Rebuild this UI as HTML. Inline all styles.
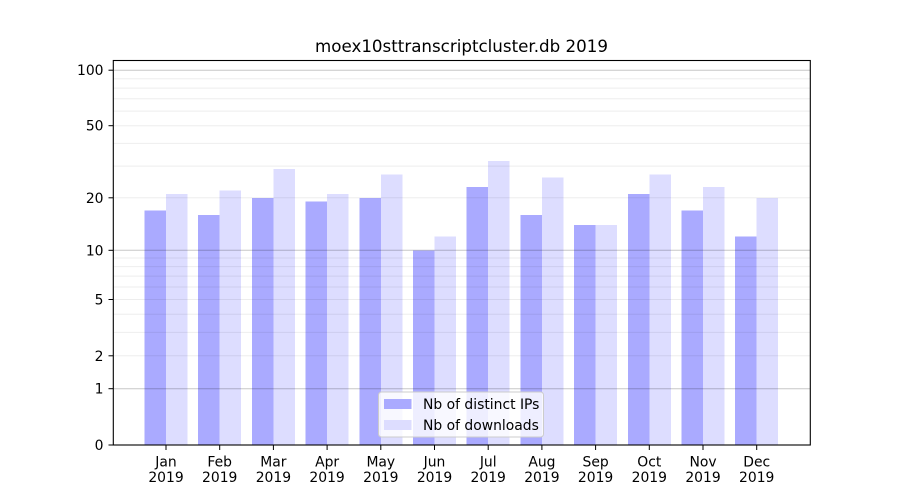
<!DOCTYPE html>
<html><head><meta charset="utf-8"><style>
html,body{margin:0;padding:0;background:#fff;}
svg{display:block;font-family:"DejaVu Sans","Liberation Sans",sans-serif;}
</style></head><body>
<svg width="900" height="500" viewBox="0 0 900 500" xmlns="http://www.w3.org/2000/svg">
<rect width="900" height="500" fill="#fff"/>
<!-- bars -->
<g shape-rendering="crispEdges">
<rect x="144.5" y="210.3" width="21.5" height="234.7" fill="#aaaaff"/>
<rect x="166" y="194.0" width="21.5" height="251" fill="#ddddff"/>
<rect x="198.2" y="214.9" width="21.5" height="230.1" fill="#aaaaff"/>
<rect x="219.7" y="190.4" width="21.5" height="254.6" fill="#ddddff"/>
<rect x="251.9" y="197.8" width="21.5" height="247.2" fill="#aaaaff"/>
<rect x="273.4" y="168.8" width="21.5" height="276.2" fill="#ddddff"/>
<rect x="305.6" y="201.7" width="21.5" height="243.3" fill="#aaaaff"/>
<rect x="327.1" y="194.0" width="21.5" height="251" fill="#ddddff"/>
<rect x="359.3" y="197.8" width="21.5" height="247.2" fill="#aaaaff"/>
<rect x="380.8" y="174.4" width="21.5" height="270.6" fill="#ddddff"/>
<rect x="413.0" y="250.3" width="21.5" height="194.7" fill="#aaaaff"/>
<rect x="434.5" y="236.7" width="21.5" height="208.3" fill="#ddddff"/>
<rect x="466.7" y="186.9" width="21.5" height="258.1" fill="#aaaaff"/>
<rect x="488.2" y="161.0" width="21.5" height="284" fill="#ddddff"/>
<rect x="520.4" y="214.9" width="21.5" height="230.1" fill="#aaaaff"/>
<rect x="541.9" y="177.3" width="21.5" height="267.7" fill="#ddddff"/>
<rect x="574.1" y="225.1" width="21.5" height="219.9" fill="#aaaaff"/>
<rect x="595.6" y="225.1" width="21.5" height="219.9" fill="#ddddff"/>
<rect x="627.8" y="194.0" width="21.5" height="251" fill="#aaaaff"/>
<rect x="649.3" y="174.4" width="21.5" height="270.6" fill="#ddddff"/>
<rect x="681.5" y="210.3" width="21.5" height="234.7" fill="#aaaaff"/>
<rect x="703.0" y="186.9" width="21.5" height="258.1" fill="#ddddff"/>
<rect x="735.2" y="236.7" width="21.5" height="208.3" fill="#aaaaff"/>
<rect x="756.7" y="197.8" width="21.5" height="247.2" fill="#ddddff"/>
</g>
<!-- minor grid -->
<g stroke="#000" stroke-opacity="0.07" stroke-width="1">
<line x1="113" x2="810" y1="355.8" y2="355.8"/>
<line x1="113" x2="810" y1="332.4" y2="332.4"/>
<line x1="113" x2="810" y1="314.3" y2="314.3"/>
<line x1="113" x2="810" y1="299.5" y2="299.5"/>
<line x1="113" x2="810" y1="287.0" y2="287.0"/>
<line x1="113" x2="810" y1="276.1" y2="276.1"/>
<line x1="113" x2="810" y1="266.6" y2="266.6"/>
<line x1="113" x2="810" y1="258.0" y2="258.0"/>
<line x1="113" x2="810" y1="197.8" y2="197.8"/>
<line x1="113" x2="810" y1="166.1" y2="166.1"/>
<line x1="113" x2="810" y1="143.4" y2="143.4"/>
<line x1="113" x2="810" y1="125.7" y2="125.7"/>
<line x1="113" x2="810" y1="111.1" y2="111.1"/>
<line x1="113" x2="810" y1="98.8" y2="98.8"/>
<line x1="113" x2="810" y1="88.1" y2="88.1"/>
<line x1="113" x2="810" y1="78.7" y2="78.7"/>
</g>
<!-- major grid -->
<g stroke="#000" stroke-opacity="0.22" stroke-width="1">
<line x1="113" x2="810" y1="388.7" y2="388.7"/>
<line x1="113" x2="810" y1="250.3" y2="250.3"/>
<line x1="113" x2="810" y1="70.2" y2="70.2"/>
</g>
<!-- axes frame -->
<rect x="113.3" y="60.5" width="697" height="384.5" fill="none" stroke="#000" stroke-width="1.1"/>
<!-- y ticks -->
<g stroke="#000" stroke-width="1">
<line x1="108.5" x2="113" y1="445" y2="445"/>
<line x1="108.5" x2="113" y1="388.7" y2="388.7"/>
<line x1="108.5" x2="113" y1="355.8" y2="355.8"/>
<line x1="108.5" x2="113" y1="299.5" y2="299.5"/>
<line x1="108.5" x2="113" y1="250.3" y2="250.3"/>
<line x1="108.5" x2="113" y1="197.8" y2="197.8"/>
<line x1="108.5" x2="113" y1="125.7" y2="125.7"/>
<line x1="108.5" x2="113" y1="70.2" y2="70.2"/>
</g>
<g font-size="13.9" fill="#000" text-anchor="end">
<text x="103.5" y="450">0</text>
<text x="103.5" y="393.7">1</text>
<text x="103.5" y="360.8">2</text>
<text x="103.5" y="304.5">5</text>
<text x="103.5" y="255.3">10</text>
<text x="103.5" y="202.8">20</text>
<text x="103.5" y="130.7">50</text>
<text x="103.5" y="75.2">100</text>
</g>
<!-- x ticks -->
<g stroke="#000" stroke-width="1">
<line x1="166" x2="166" y1="445" y2="450"/>
<line x1="219.7" x2="219.7" y1="445" y2="450"/>
<line x1="273.4" x2="273.4" y1="445" y2="450"/>
<line x1="327.1" x2="327.1" y1="445" y2="450"/>
<line x1="380.8" x2="380.8" y1="445" y2="450"/>
<line x1="434.5" x2="434.5" y1="445" y2="450"/>
<line x1="488.2" x2="488.2" y1="445" y2="450"/>
<line x1="541.9" x2="541.9" y1="445" y2="450"/>
<line x1="595.6" x2="595.6" y1="445" y2="450"/>
<line x1="649.3" x2="649.3" y1="445" y2="450"/>
<line x1="703.0" x2="703.0" y1="445" y2="450"/>
<line x1="756.7" x2="756.7" y1="445" y2="450"/>
</g>
<g font-size="13.9" fill="#000" text-anchor="middle">
<text x="166" y="466.5">Jan</text><text x="166" y="482">2019</text>
<text x="219.7" y="466.5">Feb</text><text x="219.7" y="482">2019</text>
<text x="273.4" y="466.5">Mar</text><text x="273.4" y="482">2019</text>
<text x="327.1" y="466.5">Apr</text><text x="327.1" y="482">2019</text>
<text x="380.8" y="466.5">May</text><text x="380.8" y="482">2019</text>
<text x="434.5" y="466.5">Jun</text><text x="434.5" y="482">2019</text>
<text x="488.2" y="466.5">Jul</text><text x="488.2" y="482">2019</text>
<text x="541.9" y="466.5">Aug</text><text x="541.9" y="482">2019</text>
<text x="595.6" y="466.5">Sep</text><text x="595.6" y="482">2019</text>
<text x="649.3" y="466.5">Oct</text><text x="649.3" y="482">2019</text>
<text x="703.0" y="466.5">Nov</text><text x="703.0" y="482">2019</text>
<text x="756.7" y="466.5">Dec</text><text x="756.7" y="482">2019</text>
</g>
<!-- title -->
<text x="461.5" y="52" font-size="16.7" text-anchor="middle" fill="#000">moex10sttranscriptcluster.db 2019</text>
<!-- legend -->
<rect x="378.5" y="392" width="165" height="45" rx="3" ry="3" fill="#fff" fill-opacity="0.8" stroke="#cccccc" stroke-width="1"/>
<rect x="384" y="399" width="27.5" height="10" fill="#aaaaff"/>
<rect x="384" y="420" width="27.5" height="10" fill="#ddddff"/>
<g font-size="13.9" fill="#000">
<text x="423" y="409">Nb of distinct IPs</text>
<text x="423" y="430">Nb of downloads</text>
</g>
</svg>
</body></html>
